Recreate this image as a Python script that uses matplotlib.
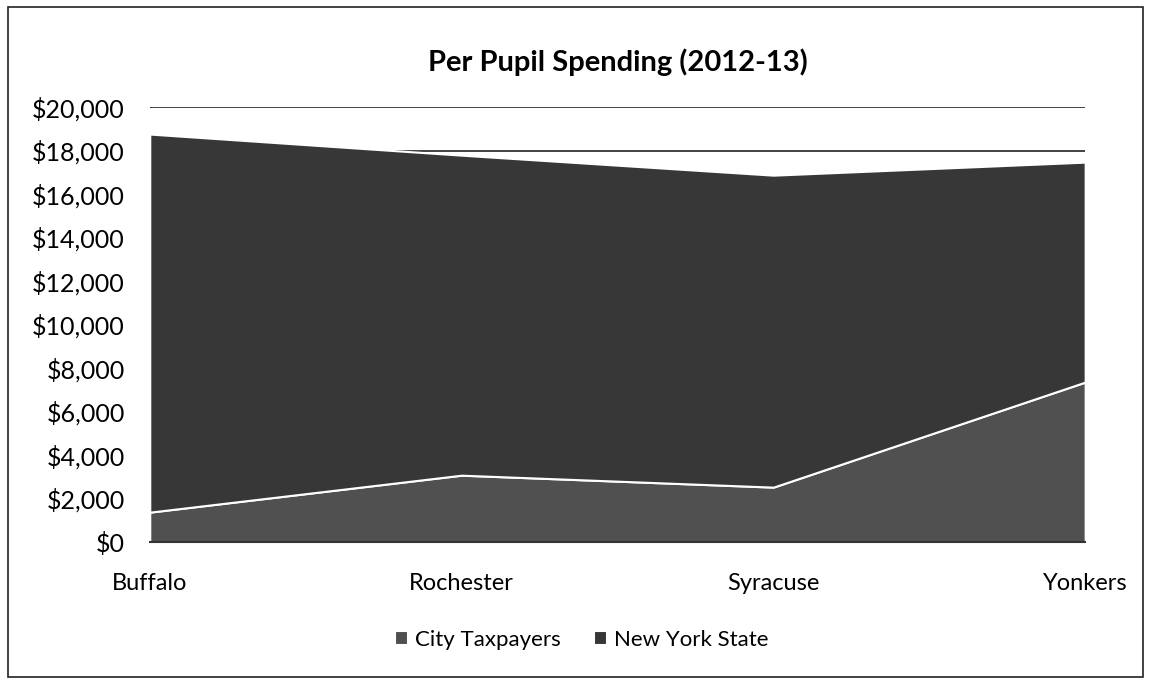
import numpy as np
import matplotlib.pyplot as plt
from matplotlib.patches import Rectangle
from matplotlib.ticker import FuncFormatter

plt.rcParams['font.family'] = ['Lato', 'DejaVu Sans']

cities = ['Buffalo', 'Rochester', 'Syracuse', 'Yonkers']
city_taxpayers = [1380, 3080, 2530, 7360]
new_york_state = [17380, 14710, 14340, 10110]
yticks = list(range(0, 20001, 2000))

fig = plt.figure(figsize=(11.52, 6.82), dpi=100)
ax = fig.add_axes([0.130, 0.205, 0.812, 0.638])

x = np.arange(len(cities))
ax.set_axisbelow(True)
ax.grid(axis='y', color='#222222', linewidth=1.2)
ax.stackplot(x, city_taxpayers, new_york_state,
             colors=['#505050', '#373737'],
             labels=['City Taxpayers', 'New York State'],
             edgecolor='white', linewidth=1.5)

ax.set_xlim(0, len(cities) - 1)
ax.set_ylim(0, 20000)
ax.set_yticks(yticks)
ax.yaxis.set_major_formatter(FuncFormatter(lambda v, p: '${:,.0f}'.format(v)))
ax.set_xticks(x)
ax.set_xticklabels(cities)
ax.tick_params(axis='x', length=0, labelsize=17, pad=22)
ax.tick_params(axis='y', length=0, labelsize=18, pad=18)
for s in ['top', 'right', 'left']:
    ax.spines[s].set_visible(False)
ax.spines['bottom'].set_color('#333333')
ax.spines['bottom'].set_linewidth(1.5)

ax.set_title('Per Pupil Spending (2012-13)', fontsize=21, fontweight='bold', pad=26)

leg = fig.legend(loc='center', bbox_to_anchor=(0.505, 0.062), ncol=2, frameon=False,
                 fontsize=16, handlelength=0.6, handleheight=0.6, handletextpad=0.3,
                 columnspacing=1.5)

fig.patches.append(Rectangle((0.007, 0.007), 0.985, 0.983, transform=fig.transFigure,
                             fill=False, edgecolor='#222222', linewidth=1.2))

fig.savefig('out.png', dpi=100)
